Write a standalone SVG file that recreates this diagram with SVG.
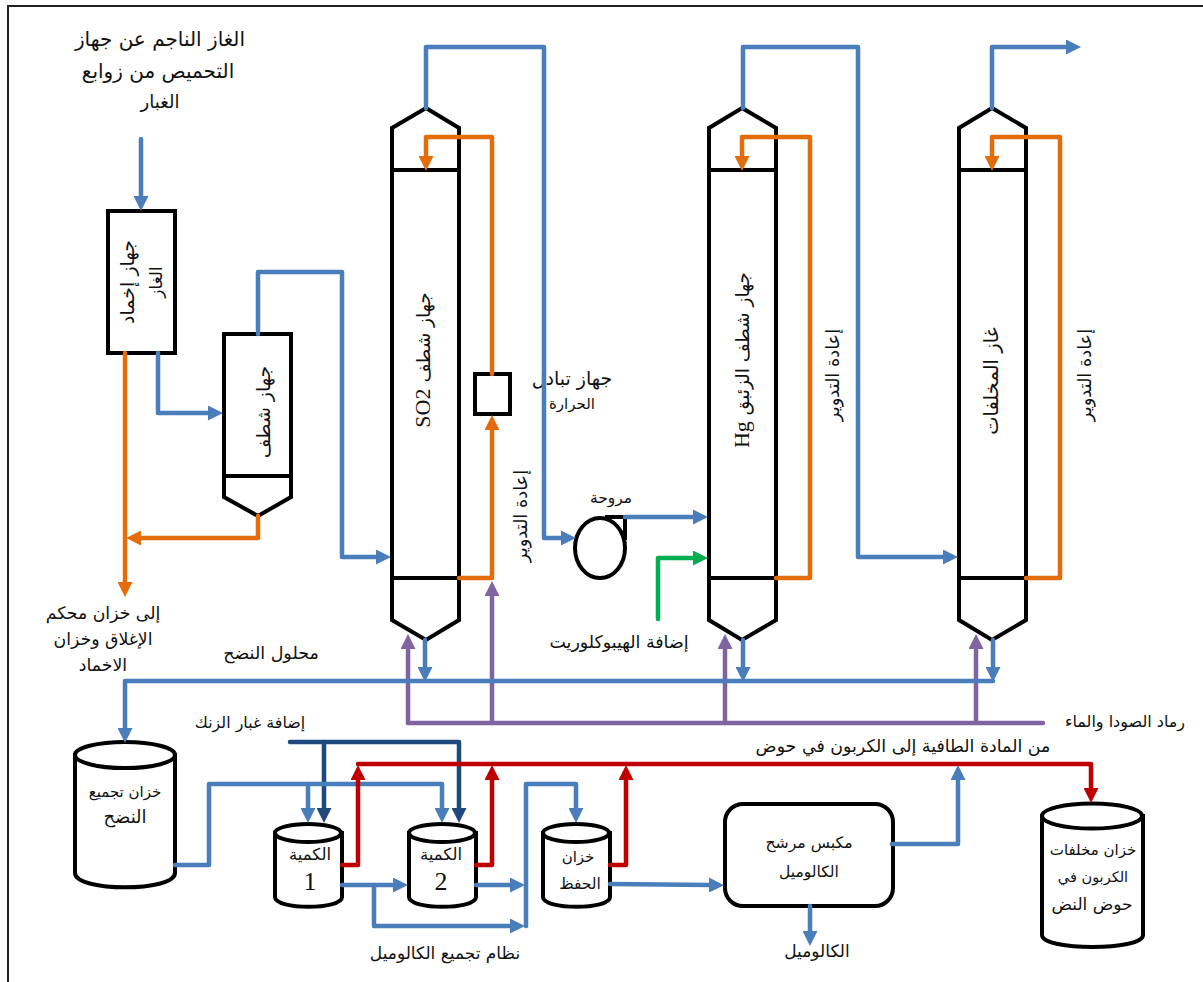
<svg xmlns="http://www.w3.org/2000/svg" width="1203" height="982" viewBox="0 0 1203 982">
<style>
.s{fill:none;stroke:#000;stroke-width:4;stroke-linejoin:miter}
.t{fill:#fff;stroke:#000;stroke-width:4}
.c{fill:none;stroke-width:4.5;stroke-linejoin:round;stroke-linecap:round}
.b{stroke:#4a7ebb}.o{stroke:#e46c0a}.p{stroke:#8064a2}.r{stroke:#c00000}.g{stroke:#00b050}.n{stroke:#1f497d}
.ba{marker-end:url(#mb)}.oa{marker-end:url(#mo)}.pa{marker-end:url(#mp)}.ra{marker-end:url(#mr)}.ga{marker-end:url(#mg)}.na{marker-end:url(#mn)}
text{font-family:"DejaVu Sans",sans-serif;fill:#111;text-anchor:middle;direction:rtl}
.lat{font-family:"Liberation Serif",serif}
</style>
<defs>
<marker id="mb" markerUnits="userSpaceOnUse" markerWidth="15" markerHeight="15" refX="1" refY="7.5" orient="auto"><path d="M0,0L15,7.5L0,15z" fill="#4a7ebb"/></marker>
<marker id="mo" markerUnits="userSpaceOnUse" markerWidth="15" markerHeight="15" refX="1" refY="7.5" orient="auto"><path d="M0,0L15,7.5L0,15z" fill="#e46c0a"/></marker>
<marker id="mp" markerUnits="userSpaceOnUse" markerWidth="15" markerHeight="15" refX="1" refY="7.5" orient="auto"><path d="M0,0L15,7.5L0,15z" fill="#8064a2"/></marker>
<marker id="mr" markerUnits="userSpaceOnUse" markerWidth="15" markerHeight="15" refX="1" refY="7.5" orient="auto"><path d="M0,0L15,7.5L0,15z" fill="#c00000"/></marker>
<marker id="mg" markerUnits="userSpaceOnUse" markerWidth="15" markerHeight="15" refX="1" refY="7.5" orient="auto"><path d="M0,0L15,7.5L0,15z" fill="#00b050"/></marker>
<marker id="mn" markerUnits="userSpaceOnUse" markerWidth="15" markerHeight="15" refX="1" refY="7.5" orient="auto"><path d="M0,0L15,7.5L0,15z" fill="#1f497d"/></marker>
</defs>
<rect width="1203" height="982" fill="#fff"/>
<path id="frame" d="M8,982V6H1203" fill="none" stroke="#222" stroke-width="2"/>

<g id="gas-cooler"><rect class="s" x="108" y="211" width="67" height="142"/>
<text transform="translate(134,282) rotate(-90)" font-size="19">جهاز إخماد</text><text transform="translate(162,282) rotate(-90)" font-size="17">الغاز</text></g>

<g id="scrubber"><path class="s" d="M224,334H291V497L258,516L224,497Z M224,476H291"/>
<text transform="translate(270,412) rotate(-90)" font-size="19">جهاز شطف</text></g>

<g id="so2-column"><path class="s" d="M426,108L459,128V620L426,640L392,620V128Z M392,170H459 M392,578H459"/>
<text transform="translate(430,360) rotate(-90)" font-size="18.5">جهاز شطف <tspan class="lat" font-size="22">SO2</tspan></text></g>

<g id="hg-column"><path class="s" d="M742,108L776,128V620L742,640L709,620V128Z M709,170H776 M709,578H776"/>
<text transform="translate(749,360) rotate(-90)" font-size="18.5">جهاز شطف الزئبق <tspan class="lat" font-size="22">Hg</tspan></text></g>

<g id="tail-column"><path class="s" d="M992,108L1026,128V620L992,640L959,620V128Z M959,170H1026 M959,578H1026"/>
<text transform="translate(998,381) rotate(-90)" font-size="19.5">غاز المخلفات</text></g>

<g id="heat-exchanger"><rect class="s" x="475" y="374" width="35" height="40"/>
<text x="572" y="385" font-size="19">جهاز تبادل</text><text x="572" y="409" font-size="15">الحرارة</text></g>

<g id="fan"><ellipse class="s" cx="600" cy="548" rx="25" ry="30"/><path class="s" d="M605,517H625V540"/>
<text x="611" y="503" font-size="15.5">مروحة</text></g>

<g id="leachate-tank"><path class="t" d="M75,755V873C75,892 175,892 175,873V755Z"/><ellipse class="t" cx="125" cy="755" rx="50" ry="13"/>
<text x="125" y="797" font-size="15">خزان تجميع</text><text x="125" y="823" font-size="18">النضح</text></g>

<g id="qty1"><path class="t" d="M275,833V897C275,910 342,910 342,897V833Z"/><ellipse class="t" cx="308" cy="833" rx="33" ry="9"/>
<text x="310" y="860" font-size="16.5">الكمية</text><text class="lat" x="310" y="890" font-size="26">1</text></g>

<g id="qty2"><path class="t" d="M409,833V897C409,910 476,910 476,897V833Z"/><ellipse class="t" cx="442" cy="833" rx="33" ry="9"/>
<text x="441" y="860" font-size="16.5">الكمية</text><text class="lat" x="441" y="890" font-size="26">2</text></g>

<g id="hold-tank"><path class="t" d="M543,833V897C543,910 610,910 610,897V833Z"/><ellipse class="t" cx="576" cy="833" rx="33" ry="9"/>
<text x="578" y="862" font-size="15">خزان</text><text x="580" y="889" font-size="15.5">الحفظ</text></g>

<g id="filter-press"><rect class="s" x="725" y="804" width="168" height="102" rx="18"/>
<text x="809" y="848" font-size="15.7">مكبس مرشح</text><text x="809" y="877" font-size="15.5">الكالوميل</text></g>

<g id="carbon-tank"><path class="t" d="M1042,816V935C1042,951 1143,951 1143,935V816Z"/><ellipse class="t" cx="1092" cy="816" rx="50" ry="12.5"/>
<text x="1093" y="855" font-size="15">خزان مخلفات</text><text x="1093" y="882" font-size="14.5">الكربون في</text><text x="1092" y="910" font-size="17">حوض النض</text></g>

<g id="connectors">
<path class="c b ba" d="M141,139V197"/>
<path class="c b ba" d="M158,353V413H209"/>
<path class="c b ba" d="M258,334V272H342V557H377"/>
<path class="c b ba" d="M426,108V47H544V538H562"/>
<path class="c b ba" d="M625,517H694"/>
<path class="c g ga" d="M658,619V558H694"/>
<path class="c b ba" d="M743,108V47H858V557H944"/>
<path class="c b ba" d="M992,108V47H1067"/>
<path class="c o oa" d="M459,578H492V429"/>
<path class="c o oa" d="M492,374V137H426V157"/>
<path class="c o oa" d="M776,578H810V137H742V157"/>
<path class="c o oa" d="M1026,578H1060V137H992V157"/>
<path class="c o oa" d="M125,353V583"/>
<path class="c o oa" d="M258,516V538H140"/>
<path class="c p" d="M1043,723H408"/>
<path class="c p pa" d="M408,723V648"/>
<path class="c p pa" d="M492,723V595"/>
<path class="c p pa" d="M725,723V648"/>
<path class="c p pa" d="M976,723V648"/>
<path class="c b ba" d="M425,640V668"/>
<path class="c b ba" d="M743,640V668"/>
<path class="c b ba" d="M993,640V668"/>
<path class="c b ba" d="M993,681H125V729"/>
<path class="c n na" d="M290,742H459V809"/>
<path class="c n na" d="M324,742V809"/>
<path class="c b ba" d="M175,865H209V784H442V809"/>
<path class="c b ba" d="M308,784V809"/>
<path class="c r ra" d="M342,865H358V779"/>
<path class="c r ra" d="M358,764H1091V789"/>
<path class="c r ra" d="M476,865H492V779"/>
<path class="c r ra" d="M610,865H626V779"/>
<path class="c b ba" d="M342,885H394"/>
<path class="c b ba" d="M374,885V926H511"/>
<path class="c b ba" d="M476,885H511"/>
<path class="c b ba" d="M526,926V784H576V809"/>
<path class="c b ba" d="M610,884L710,885"/>
<path class="c b ba" d="M892,844H958V779"/>
<path class="c b ba" d="M810,906V932"/>
</g>

<g id="labels">
<text x="160" y="46" font-size="20">الغاز الناجم عن جهاز</text>
<text x="158" y="78" font-size="20">التحميص من زوابع</text>
<text x="160" y="108" font-size="18">الغبار</text>
<text transform="translate(527,516) rotate(-90)" font-size="17.8">إعادة التدوير</text>
<text transform="translate(839,375) rotate(-90)" font-size="17.8">إعادة التدوير</text>
<text transform="translate(1091,375) rotate(-90)" font-size="17.8">إعادة التدوير</text>
<text x="619" y="648" font-size="17.4">إضافة الهيبوكلوريت</text>
<text x="103" y="619" font-size="17.3">إلى خزان محكم</text>
<text x="103" y="645" font-size="17.3">الإغلاق وخزان</text>
<text x="103" y="671" font-size="17.3">الاخماد</text>
<text x="271" y="659" font-size="17.5">محلول النضح</text>
<text x="250" y="728" font-size="15.9">إضافة غبار الزنك</text>
<text x="1125" y="727" font-size="16">رماد الصودا والماء</text>
<text x="903" y="752" font-size="17.4">من المادة الطافية إلى الكربون في حوض</text>
<text x="445" y="959" font-size="17">نظام تجميع الكالوميل</text>
<text x="817" y="957" font-size="17">الكالوميل</text>
</g>
</svg>
